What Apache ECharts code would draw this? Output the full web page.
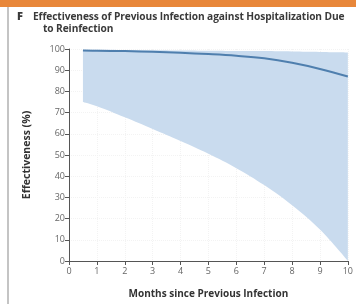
<!DOCTYPE html>
<html>
<head>
<meta charset="utf-8">
<script src="https://cdn.jsdelivr.net/npm/echarts@6/dist/echarts.min.js"></script>
<style>
  html, body { margin: 0; padding: 0; background: #fff; }
  .topbar { position: absolute; left: 0; top: 0; width: 356px; height: 7px; background: #e8873a; }
  .leftbar { position: absolute; left: 7px; top: 7px; width: 2px; height: 297px; background: #c4c4c4; }
  .title { position: absolute; left: 17px; top: 10px; white-space: nowrap; font-family: "Open Sans", "DejaVu Sans", sans-serif; font-weight: bold; font-size: 10.2px; line-height: 12px; color: #3a3a3a; letter-spacing: -0.1px; }
  .title b { display: inline-block; width: 16px; font-size: 11px; }
  .title .l2 { padding-left: 26px; }
  #chart { position: absolute; left: 0; top: 0; width: 356px; height: 304px; }
</style>
</head>
<body>
<div class="topbar"></div>
<div class="leftbar"></div>
<div id="chart"></div>
<div class="title"><b>F</b>Effectiveness of Previous Infection against Hospitalization Due<br><span class="l2">to Reinfection</span></div>
<script>
// 月份与数值
var months = [0.5, 1, 2, 3, 4, 5, 6, 7, 8, 9, 10];
var meanVals = [99.3, 99.2, 99.0, 98.7, 98.2, 97.6, 96.8, 95.6, 93.5, 90.6, 87.0];
var lowerVals = [75.0, 73.0, 67.8, 62.3, 56.6, 50.6, 43.8, 35.8, 26.3, 14.8, 0];
var upperVals = [99.6, 99.6, 99.5, 99.4, 99.3, 99.2, 99.1, 99.0, 98.8, 98.6, 98.4];
var xTicks = [0, 1, 2, 3, 4, 5, 6, 7, 8, 9, 10];
var yTicks = [0, 10, 20, 30, 40, 50, 60, 70, 80, 90, 100];

(function () {
	var myChart = echarts.init(document.getElementById('chart'));
	// 数值放第一维，这样堆叠发生在 y 上
	var lowerData = months.map(function (m, i) { return [lowerVals[i], m]; });
	var bandData = months.map(function (m, i) { return [upperVals[i] - lowerVals[i], m]; });
	var meanData = months.map(function (m, i) { return [m, meanVals[i]]; });
	var axisText = { color: '#666', fontSize: 9, fontFamily: 'Open Sans' };
	var option = {
		animation: false,
		grid: { left: 69, right: 4, top: 49, bottom: 39 },
		xAxis: {
			type: 'value',
			min: xTicks[0],
			max: xTicks[xTicks.length - 1],
			interval: 1,
			name: 'Months since Previous Infection',
			nameLocation: 'middle',
			nameGap: 28,
			nameTextStyle: { color: '#333', fontSize: 10, fontWeight: 'bold', fontFamily: 'Open Sans' },
			axisLine: { lineStyle: { color: '#555', width: 1 } },
			axisTick: { length: 4, lineStyle: { color: '#555' } },
			axisLabel: Object.assign({ margin: 6 }, axisText),
			splitLine: { show: true, lineStyle: { color: '#f3f3f3', type: 'dotted' } }
		},
		yAxis: {
			type: 'value',
			min: yTicks[0],
			max: yTicks[yTicks.length - 1],
			interval: 10,
			name: 'Effectiveness (%)',
			nameLocation: 'middle',
			nameGap: 36,
			nameTextStyle: { color: '#333', fontSize: 10.5, fontWeight: 'bold', fontFamily: 'Open Sans' },
			axisLine: { show: true, lineStyle: { color: '#555', width: 1 } },
			axisTick: { show: true, length: 4, lineStyle: { color: '#555' } },
			axisLabel: Object.assign({ margin: 4 }, axisText),
			splitLine: { show: true, lineStyle: { color: '#f3f3f3', type: 'dotted' } }
		},
		series: [
			{
				name: 'lower',
				type: 'line',
				stack: 'ci',
				smooth: 0.4,
				symbol: 'none',
				encode: { x: 1, y: 0 },
				lineStyle: { width: 0, opacity: 0 },
				data: lowerData
			},
			{
				name: 'band',
				type: 'line',
				stack: 'ci',
				smooth: 0.4,
				symbol: 'none',
				encode: { x: 1, y: 0 },
				lineStyle: { width: 0, opacity: 0 },
				areaStyle: { color: '#c9dbee', opacity: 1 },
				data: bandData
			},
			{
				name: 'mean',
				type: 'line',
				smooth: 0.4,
				symbol: 'none',
				lineStyle: { color: '#4f7fae', width: 2 },
				data: meanData
			}
		]
	};
	myChart.setOption(option);
})();
</script>
</body>
</html>
